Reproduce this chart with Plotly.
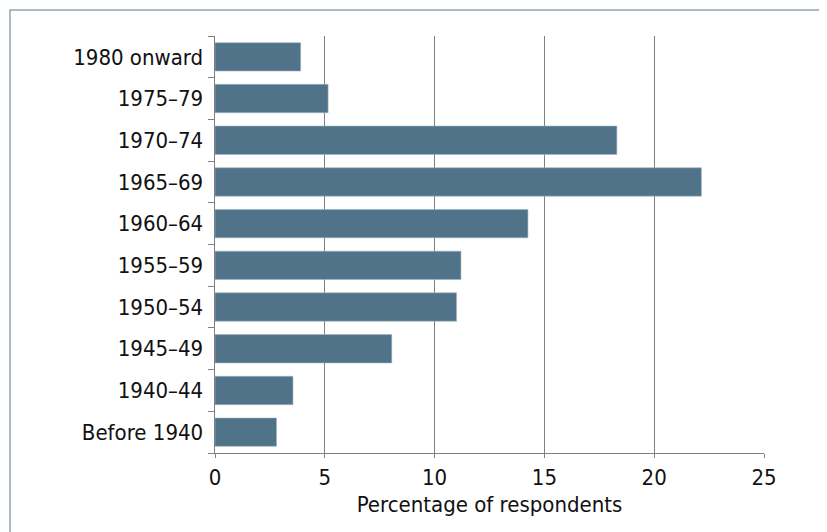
import plotly.graph_objects as go

categories = ["Before 1940", "1940–44", "1945–49", "1950–54", "1955–59",
              "1960–64", "1965–69", "1970–74", "1975–79", "1980 onward"]
values = [2.8, 3.55, 8.05, 11.0, 11.2, 14.25, 22.15, 18.3, 5.15, 3.9]
x_ticks = [0, 5, 10, 15, 20, 25]

FONT = "DejaVu Sans Condensed, sans-serif"
OFF = 8  # page body margin
W, H = 827 - OFF, 532 - OFF
L, T = 215 - OFF, 36 - OFF
R = W - (764 - OFF)
B = H - (453 - OFF)
pw, ph = W - L - R, H - T - B

fig = go.Figure(go.Bar(
    y=categories, x=values, orientation="h",
    marker=dict(color="#51738A", line=dict(color="#9fb3c0", width=0.6)),
    width=0.68,
))

fig.update_layout(
    width=W, height=H,
    margin=dict(l=L, r=R, t=T, b=B),
    paper_bgcolor="white", plot_bgcolor="white",
    font=dict(family=FONT, size=22, color="#111111"),
    showlegend=False,
    xaxis=dict(
        range=[0, 25], tickvals=x_ticks, ticktext=[str(v) for v in x_ticks],
        showgrid=True, gridcolor="#808080", gridwidth=1.3,
        showline=True, linecolor="#808080", linewidth=1.3,
        ticks="outside", ticklen=4, tickcolor="#808080",
        zeroline=False,
        title=dict(text="Percentage of respondents", standoff=8, font=dict(size=22)),
        tickfont=dict(size=22),
    ),
    yaxis=dict(
        type="category", categoryorder="array", categoryarray=categories,
        showline=True, linecolor="#808080", linewidth=1.3,
        ticks="outside", ticklen=6, tickcolor="#808080", tickson="boundaries",
        showgrid=False, tickfont=dict(size=22), ticksuffix=" ",
    ),
    shapes=[dict(
        type="rect", xref="paper", yref="paper",
        x0=(10 - 215) / pw, x1=2, y0=-1, y1=1 + (36 - 10) / ph,
        line=dict(color="#8ea5b4", width=1.5), fillcolor="rgba(0,0,0,0)", layer="below",
    )],
)

fig.write_html("out.html")
